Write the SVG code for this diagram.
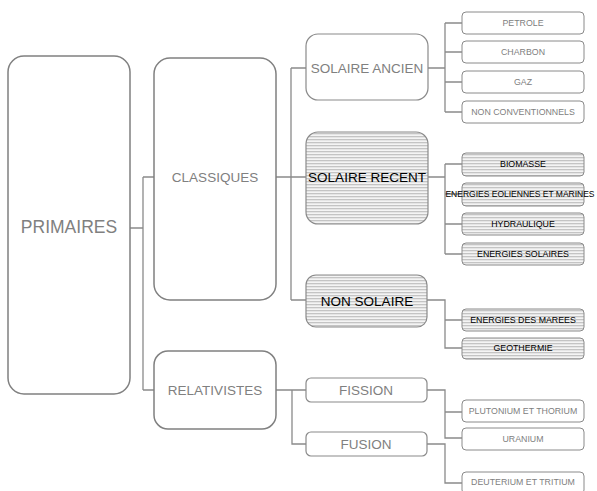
<svg xmlns="http://www.w3.org/2000/svg" width="597" height="491" viewBox="0 0 597 491">
<defs>
<pattern id="hatch" patternUnits="userSpaceOnUse" width="6" height="3">
<rect width="6" height="3" fill="#f4f4f4"/>
<rect y="1" width="6" height="1.3" fill="#c4c4c4"/>
</pattern>
</defs>
<style>
.big{fill:#fff;stroke:#808080;stroke-width:1.5}
.mid{fill:#fff;stroke:#8a8a8a;stroke-width:1.2}
.sm{fill:#fff;stroke:#8a8a8a;stroke-width:1}
.h{fill:url(#hatch)}
text{font-family:"Liberation Sans",Arial,sans-serif;text-anchor:middle;dominant-baseline:central}
.tl{font-size:17.5px;fill:#808080}
.tm{font-size:13.5px;fill:#808080}
.tmb{font-size:13.5px;fill:#000}
.ts{font-size:8.8px;fill:#808080}
.tsb{font-size:8.8px;fill:#000}
.c{fill:none;stroke:#8a8a8a;stroke-width:1.3}
</style>
<g id="connectors">
<path class="c" d="M130,228 H143 M143,177 V390 M143,177 H154 M143,390 H154"/>
<path class="c" d="M276,177 H291 M291,68 V300 M291,68 H306 M291,177 H306 M291,300 H306"/>
<path class="c" d="M428,68 H445 M445,23 V112 M445,23 H462 M445,52 H462 M445,82 H462 M445,112 H462"/>
<path class="c" d="M428,177 H445 M445,164 V254 M445,164 H462 M445,194 H462 M445,224 H462 M445,254 H462"/>
<path class="c" d="M427,300 H445 V348 H462 M445,320 H462"/>
<path class="c" d="M276,390 H292 V444 H306 M292,390 H306"/>
<path class="c" d="M427,390 H445 V438 H462 M445,412 H462"/>
<path class="c" d="M427,444 H445 V483 H462"/>
</g>
<g id="primaires"><rect class="big" x="8" y="56" width="122" height="338" rx="16"/><text class="tl" x="69" y="227">PRIMAIRES</text></g>
<g id="classiques"><rect class="big" x="154" y="58" width="122" height="242" rx="16"/><text class="tm" x="215" y="177">CLASSIQUES</text></g>
<g id="relativistes"><rect class="big" x="154" y="351" width="122" height="78" rx="14"/><text class="tm" x="215" y="390">RELATIVISTES</text></g>
<g id="solaire-ancien"><rect class="mid" x="306" y="34" width="122" height="66" rx="12"/><text class="tm" x="367" y="68">SOLAIRE ANCIEN</text></g>
<g id="solaire-recent"><rect class="mid h" x="306" y="132" width="122" height="92" rx="12"/><text class="tmb" x="367" y="177">SOLAIRE RECENT</text></g>
<g id="non-solaire"><rect class="mid h" x="306" y="275" width="121" height="52" rx="10"/><text class="tmb" x="367" y="301">NON SOLAIRE</text></g>
<g id="fission"><rect class="mid" x="306" y="378" width="121" height="24" rx="5"/><text class="tm" x="366" y="390">FISSION</text></g>
<g id="fusion"><rect class="mid" x="306" y="432" width="121" height="24" rx="5"/><text class="tm" x="366" y="444">FUSION</text></g>
<g id="petrole"><rect class="sm" x="462" y="12" width="122" height="22" rx="4"/><text class="ts" x="523" y="23">PETROLE</text></g>
<g id="charbon"><rect class="sm" x="462" y="41" width="122" height="22" rx="4"/><text class="ts" x="523" y="52">CHARBON</text></g>
<g id="gaz"><rect class="sm" x="462" y="71" width="122" height="22" rx="4"/><text class="ts" x="523" y="82">GAZ</text></g>
<g id="non-conventionnels"><rect class="sm" x="462" y="101" width="122" height="22" rx="4"/><text class="ts" x="523" y="112">NON CONVENTIONNELS</text></g>
<g id="biomasse"><rect class="sm h" x="462" y="153" width="122" height="23" rx="4"/><text class="tsb" x="523" y="164">BIOMASSE</text></g>
<g id="eoliennes"><rect class="sm h" x="462" y="183" width="122" height="23" rx="4"/><text class="tsb" x="520" y="194" style="font-size:8.5px">ENERGIES EOLIENNES ET MARINES</text></g>
<g id="hydraulique"><rect class="sm h" x="462" y="213" width="122" height="22" rx="4"/><text class="tsb" x="523" y="224">HYDRAULIQUE</text></g>
<g id="energies-solaires"><rect class="sm h" x="462" y="243" width="122" height="22" rx="4"/><text class="tsb" x="523" y="254">ENERGIES SOLAIRES</text></g>
<g id="marees"><rect class="sm h" x="462" y="309" width="122" height="22" rx="4"/><text class="tsb" x="523" y="320">ENERGIES DES MAREES</text></g>
<g id="geothermie"><rect class="sm h" x="462" y="338" width="122" height="21" rx="4"/><text class="tsb" x="523" y="348">GEOTHERMIE</text></g>
<g id="plutonium"><rect class="sm" x="462" y="400" width="122" height="22" rx="4"/><text class="ts" x="523" y="411">PLUTONIUM ET THORIUM</text></g>
<g id="uranium"><rect class="sm" x="462" y="428" width="122" height="22" rx="4"/><text class="ts" x="523" y="439">URANIUM</text></g>
<g id="deuterium"><rect class="sm" x="462" y="472" width="122" height="22" rx="4"/><text class="ts" x="523" y="482">DEUTERIUM ET TRITIUM</text></g>
</svg>
